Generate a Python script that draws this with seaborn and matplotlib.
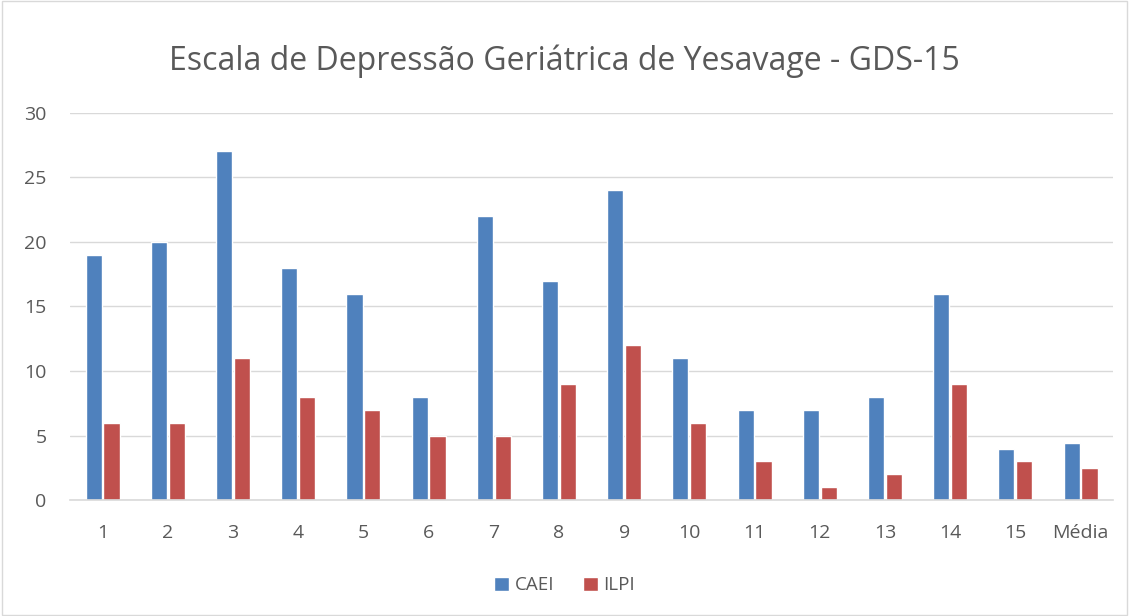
import matplotlib
matplotlib.use("Agg")
import matplotlib.pyplot as plt
import seaborn as sns
import pandas as pd
from matplotlib.patches import Rectangle

categories = ["1", "2", "3", "4", "5", "6", "7", "8", "9", "10", "11", "12", "13", "14", "15", "Média"]
caei = [19, 20, 27, 18, 16, 8, 22, 17, 24, 11, 7, 7, 8, 16, 4, 4.45]
ilpi = [6, 6, 11, 8, 7, 5, 5, 9, 12, 6, 3, 1, 2, 9, 3, 2.5]
series_names = ["CAEI", "ILPI"]
title = "Escala de Depressão Geriátrica de Yesavage - GDS-15"

df = pd.DataFrame({
    "cat": categories * 2,
    "val": caei + ilpi,
    "serie": [series_names[0]] * len(categories) + [series_names[1]] * len(categories),
})

sns.set_theme(style="white")
plt.rcParams["font.family"] = ["Open Sans", "DejaVu Sans"]

fig = plt.figure(figsize=(11.29, 6.16), dpi=100)
ax = fig.add_axes([0.062, 0.188, 0.924, 0.629])

sns.barplot(data=df, x="cat", y="val", hue="serie", order=categories,
            palette=["#4F81BD", "#C0504D"], width=0.55, gap=0.1,
            saturation=1, ax=ax, legend=True)

ax.set_ylim(0, 30)
ax.set_yticks(range(0, 31, 5))
ax.yaxis.grid(True, color="#D9D9D9", linewidth=1)
ax.set_axisbelow(True)
for s in ["top", "right", "left"]:
    ax.spines[s].set_visible(False)
ax.spines["bottom"].set_color("#D9D9D9")
ax.spines["bottom"].set_linewidth(1.2)
ax.set_xlabel("")
ax.set_ylabel("")
ax.tick_params(axis="both", length=0, labelsize=14, colors="#595959")
ax.tick_params(axis="x", pad=17)
ax.tick_params(axis="y", pad=17)

fig.text(0.5, 0.9, title, ha="center", va="center", fontsize=23, color="#595959")

handles, labels = ax.get_legend_handles_labels()
ax.legend_.remove()
fig.legend(handles, labels, loc="center", bbox_to_anchor=(0.5, 0.05), ncol=2,
           frameon=False, fontsize=13.5, labelcolor="#595959",
           handlelength=0.8, handleheight=0.8, handletextpad=0.3, columnspacing=1.5)

fig.patches.append(Rectangle((0.002, 0.002), 0.996, 0.996, transform=fig.transFigure,
                             fill=False, edgecolor="#D9D9D9", linewidth=1))

fig.savefig("out.png", dpi=100, facecolor="white")
